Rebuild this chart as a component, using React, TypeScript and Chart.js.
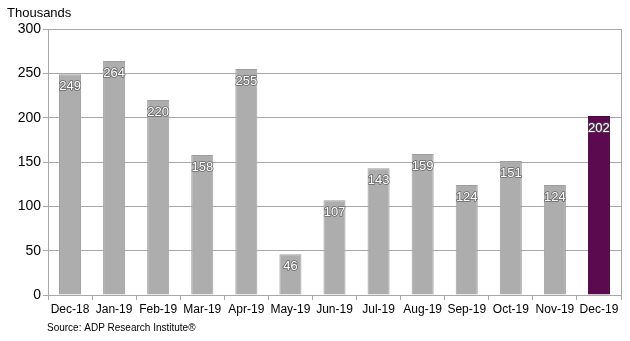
import React, { useEffect, useRef } from "react";
import { Chart, registerables } from "chart.js";

Chart.register(...registerables);

const categories = ["Dec-18", "Jan-19", "Feb-19", "Mar-19", "Apr-19", "May-19", "Jun-19", "Jul-19", "Aug-19", "Sep-19", "Oct-19", "Nov-19", "Dec-19"];
const values = [249, 264, 220, 158, 255, 46, 107, 143, 159, 124, 151, 124, 202];
const yTicks = [0, 50, 100, 150, 200, 250, 300];
const unitLabel = "Thousands";
const sourceLabel = "Source: ADP Research Institute®";

const GRAY = "#ADADAD";
const GRAY_BORDER = "#9E9E9E";
const PURPLE = "#5C0A50";
const GRID = "#A8A8A8";
const FONT = "'Liberation Sans', Arial, sans-serif";

export default function App() {
  const ref = useRef<HTMLCanvasElement | null>(null);

  useEffect(() => {
    document.body.style.margin = "0";
    const canvas = ref.current;
    if (!canvas) return;

    const textPlugin = {
      id: "texts",
      afterDatasetsDraw(chart: any) {
        const ctx = chart.ctx;
        const meta = chart.getDatasetMeta(0);
        ctx.save();
        ctx.font = `13px ${FONT}`;
        ctx.textAlign = "center";
        ctx.textBaseline = "middle";
        meta.data.forEach((bar: any, i: number) => {
          const txt = String(values[i]);
          const x = bar.x;
          const y = bar.y + 12.5;
          ctx.lineJoin = "round";
          ctx.lineWidth = 1.6;
          ctx.strokeStyle = "rgba(85,85,85,0.8)";
          ctx.strokeText(txt, x, y);
          ctx.fillStyle = "#FFFFFF";
          ctx.fillText(txt, x, y);
        });
        // right border
        const a = chart.chartArea;
        ctx.strokeStyle = GRID;
        ctx.lineWidth = 1;
        ctx.beginPath();
        ctx.moveTo(Math.round(a.right) + 0.5, a.top);
        ctx.lineTo(Math.round(a.right) + 0.5, a.bottom);
        ctx.stroke();
        // titles
        ctx.fillStyle = "#000";
        ctx.textAlign = "left";
        ctx.textBaseline = "middle";
        ctx.font = `13px ${FONT}`;
        ctx.fillText(unitLabel, 7, 13);
        ctx.font = `10px ${FONT}`;
        ctx.fillText(sourceLabel, 47, 328);
        ctx.restore();
      },
    };

    const chart = new Chart(canvas, {
      type: "bar",
      data: {
        labels: categories,
        datasets: [
          {
            data: values,
            backgroundColor: values.map((_, i) => (i === values.length - 1 ? PURPLE : GRAY)),
            borderColor: values.map((_, i) => (i === values.length - 1 ? "#4A0840" : GRAY_BORDER)),
            borderWidth: 1,
            barPercentage: 1,
            categoryPercentage: 0.5,
          },
        ],
      },
      options: {
        animation: false,
        responsive: false,
        maintainAspectRatio: false,
        layout: { padding: { left: 0, top: 29, right: 9, bottom: 0 } },
        plugins: { legend: { display: false }, tooltip: { enabled: false }, title: { display: false } },
        scales: {
          x: {
            grid: { offset: true, drawOnChartArea: false, color: GRID, tickLength: 5 },
            border: { color: GRID },
            ticks: { color: "#000", font: { size: 12, family: FONT }, padding: 2, maxRotation: 0, autoSkip: false },
            afterFit(scale: any) {
              scale.height = 46;
            },
          },
          y: {
            min: 0,
            max: 300,
            afterBuildTicks(scale: any) {
              scale.ticks = yTicks.map((v) => ({ value: v }));
            },
            grid: { color: GRID, tickLength: 5 },
            border: { color: GRID },
            ticks: { color: "#000", font: { size: 14, family: FONT }, padding: 2 },
            afterFit(scale: any) {
              scale.width = 48;
            },
          },
        },
      },
      plugins: [textPlugin],
    });

    return () => chart.destroy();
  }, []);

  return (
    <div style={{ width: 630, height: 341, background: "#fff" }}>
      <canvas ref={ref} width={630} height={341} style={{ display: "block" }} />
    </div>
  );
}
